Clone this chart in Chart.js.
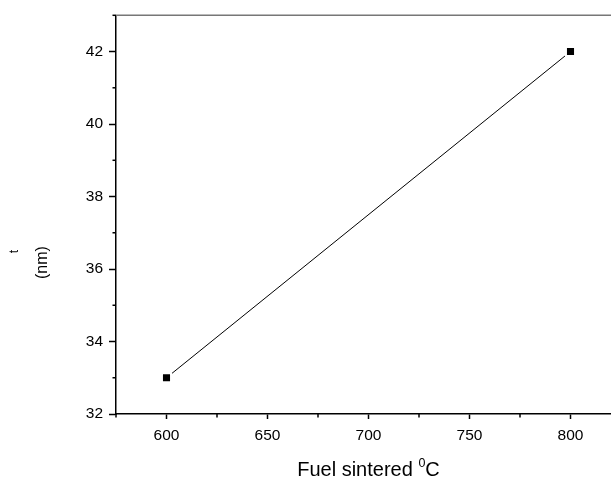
<!DOCTYPE html>
<html>
<head>
<meta charset="utf-8">
<script src="https://cdn.jsdelivr.net/npm/chart.js@4.4.1/dist/chart.umd.min.js"></script>
<style>
  html, body { margin: 0; padding: 0; background: #fff; overflow: hidden; }
  #plot { display: block; }
</style>
</head>
<body>
<canvas id="plot" width="640" height="477"></canvas>
<script>
// crystallite size t (nm) against fuel sintering temperature
const temperatures = [600, 800];
const sizes = [33, 42];

const xRange = [575, 825];
const yRange = [32, 43];
const xTicks = [600, 650, 700, 750, 800];
const yTicks = [32, 34, 36, 38, 40, 42];

const FONT = '"Liberation Sans", Arial, Helvetica, sans-serif';

const points = temperatures.map((t, i) => ({ x: t, y: sizes[i] }));

// grey frame on top / right of the plot area
const frame = {
    id: 'frame',
    afterDraw(chart) {
        const { ctx, chartArea: a } = chart;
        ctx.save();
        ctx.strokeStyle = '#777';
        ctx.lineWidth = 1.5;
        ctx.beginPath();
        ctx.moveTo(a.left, a.top);
        ctx.lineTo(a.right, a.top);
        ctx.lineTo(a.right, a.bottom);
        ctx.stroke();
        ctx.restore();
    }
};

// short unlabelled ticks halfway between the labelled ones
const minorTicks = {
    id: 'minorTicks',
    afterDraw(chart) {
        const ctx = chart.ctx;
        ctx.save();
        ctx.strokeStyle = '#000';
        ctx.lineWidth = 1.5;
        for (const id of ['x', 'y']) {
            const s = chart.scales[id];
            if (s.ticks.length < 2) continue;
            const step = s.ticks[1].value - s.ticks[0].value;
            let v = s.ticks[0].value - step / 2;
            while (v < s.min) v += step;
            while (v - step >= s.min) v -= step;
            for (; v <= s.max + 1e-9; v += step) {
                const p = s.getPixelForValue(v);
                ctx.beginPath();
                if (id === 'x') {
                    ctx.moveTo(p, s.top);
                    ctx.lineTo(p, s.top + 3.5);
                } else {
                    ctx.moveTo(s.right - 3.5, p);
                    ctx.lineTo(s.right, p);
                }
                ctx.stroke();
            }
        }
        ctx.restore();
    }
};

// axis titles: superscript degree mark on x, two-part label on y
const axisTitles = {
    id: 'axisTitles',
    afterDraw(chart) {
        const { ctx, chartArea: a } = chart;
        ctx.save();
        ctx.fillStyle = '#000';
        ctx.textBaseline = 'alphabetic';

        const big = '20px ' + FONT;
        const small = '12.5px ' + FONT;
        const head = 'Fuel sintered ';
        ctx.font = big;
        const wHead = ctx.measureText(head).width;
        const wC = ctx.measureText('C').width;
        ctx.font = small;
        const wSup = ctx.measureText('0').width;
        let x = (a.left + a.right) / 2 - (wHead + wSup + wC) / 2;
        const base = chart.height - 1;
        ctx.textAlign = 'left';
        ctx.font = big;
        ctx.fillText(head, x, base);
        x += wHead;
        ctx.font = small;
        ctx.fillText('0', x, base - 9);
        x += wSup;
        ctx.font = big;
        ctx.fillText('C', x, base);

        const mid = (a.top + a.bottom) / 2;
        ctx.textAlign = 'center';
        ctx.textBaseline = 'middle';
        ctx.save();
        ctx.translate(15, mid + 37);
        ctx.rotate(-Math.PI / 2);
        ctx.font = '12px ' + FONT;
        ctx.fillText('t', 0, 0);
        ctx.restore();
        ctx.save();
        ctx.translate(43, mid + 48);
        ctx.rotate(-Math.PI / 2);
        ctx.font = '16px ' + FONT;
        ctx.fillText('(nm)', 0, 0);
        ctx.restore();

        ctx.restore();
    }
};

new Chart(document.getElementById('plot'), {
    type: 'scatter',
    data: {
        datasets: [
            {
                data: points,
                showLine: false,
                pointStyle: 'rect',
                pointRadius: 5,
                pointBackgroundColor: '#000',
                pointBorderWidth: 0,
                order: 0
            },
            {
                // line with white pads so it stops short of the markers
                data: points,
                showLine: true,
                borderColor: '#000',
                borderWidth: 1,
                pointStyle: 'rect',
                pointRadius: 7.8,
                pointBackgroundColor: '#fff',
                pointBorderWidth: 0,
                order: 1
            }
        ]
    },
    options: {
        responsive: false,
        animation: false,
        events: [],
        layout: { padding: { left: 0, top: 14, right: 19, bottom: 0 } },
        plugins: {
            legend: { display: false },
            tooltip: { enabled: false }
        },
        scales: {
            x: {
                type: 'linear',
                min: xRange[0],
                max: xRange[1],
                afterBuildTicks: s => { s.ticks = xTicks.map(v => ({ value: v })); },
                afterFit: s => { s.height = 63; },
                border: { color: '#000', width: 1.5 },
                grid: { drawOnChartArea: false, tickLength: 5, tickColor: '#000', tickWidth: 1.5 },
                ticks: {
                    color: '#000',
                    padding: 7,
                    maxRotation: 0,
                    font: { family: FONT, size: 15.5 }
                }
            },
            y: {
                type: 'linear',
                min: yRange[0],
                max: yRange[1],
                afterBuildTicks: s => { s.ticks = yTicks.map(v => ({ value: v })); },
                afterFit: s => { s.width = 116; },
                border: { color: '#000', width: 1.5 },
                grid: { drawOnChartArea: false, tickLength: 7, tickColor: '#000', tickWidth: 1.5 },
                ticks: {
                    color: '#000',
                    padding: 6,
                    font: { family: FONT, size: 15.5 }
                }
            }
        }
    },
    plugins: [frame, minorTicks, axisTitles]
});
</script>
</body>
</html>
